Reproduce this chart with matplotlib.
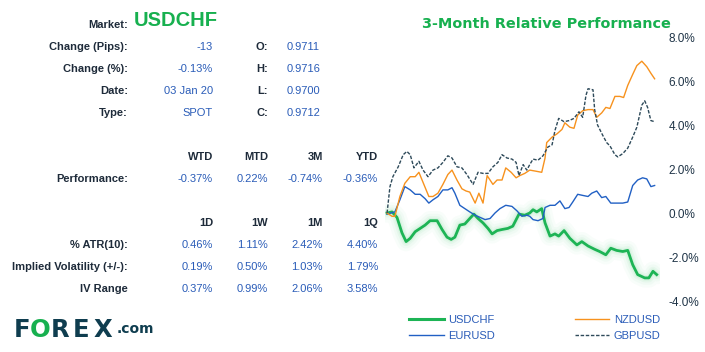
import matplotlib.pyplot as plt
from matplotlib.ticker import FuncFormatter
from matplotlib.lines import Line2D

# 3-month relative performance, % change, x in trading days
chf_days = [0, 1.2, 2.4, 3.6, 4.6, 5.6, 6.8, 8.0, 9.2, 10.4, 12.1, 13.3, 14.5, 15.5, 16.4,
            17.6, 18.8, 20.0, 21.0, 22.0, 23.2, 24.4, 25.4, 26.6, 27.8, 29.2, 30.4, 31.9,
            33.3, 34.5, 35.3, 36.2, 37.4, 38.2, 39.4, 40.6, 41.5, 42.8, 44.2, 45.9, 47.1,
            48.6, 50.2, 51.4, 52.9, 54.1, 55.5, 57.0, 58.2, 59.4, 60.6, 62.3, 63.3, 64.3, 65.2]
chf_vals = [0, 0.05, -0.2, -0.9, -1.3, -1.15, -0.85, -0.7, -0.55, -0.35, -0.35, -0.75, -1.1,
            -1.2, -1.1, -0.55, -0.5, -0.25, -0.05, -0.25, -0.45, -0.7, -0.95, -0.8, -0.75,
            -0.7, -0.6, -0.05, -0.1, 0.0, 0.15, 0.05, 0.2, -0.45, -1.05, -0.95, -1.05, -0.8,
            -1.15, -1.45, -1.3, -1.5, -1.65, -1.75, -1.9, -1.6, -1.7, -1.75, -1.7, -2.35,
            -2.8, -2.95, -2.95, -2.65, -2.8]

eur_days = [0, 1.9, 3.1, 4.3, 5.6, 6.8, 8.0, 9.2, 10.1, 11.1, 12.3, 13.5, 14.7, 15.7, 16.4,
            17.6, 18.8, 20.0, 21.3, 22.5, 23.7, 24.9, 26.1, 27.3, 28.7, 30.2, 31.4, 32.6,
            33.8, 34.5, 35.3, 36.5, 37.7, 38.2, 39.4, 40.6, 41.8, 43.0, 44.0, 44.9, 46.1,
            47.3, 48.6, 49.5, 50.7, 51.9, 52.9, 54.1, 55.6, 57.0, 58.2, 59.4, 60.6, 61.8,
            62.8, 63.8, 64.7]
eur_vals = [-0.05, 0.05, 0.6, 1.2, 1.05, 0.85, 0.85, 0.65, 0.45, 0.6, 0.75, 1.05, 1.05, 1.15,
            0.9, 0.35, 0.2, 0.05, -0.1, -0.2, -0.3, -0.25, 0.0, 0.2, 0.35, 0.3, 0.1, -0.15,
            -0.1, -0.15, -0.3, -0.35, -0.25, 0.25, 0.35, 0.35, 0.55, 0.2, 0.25, 0.5, 0.85,
            0.8, 0.75, 0.9, 1.0, 0.7, 0.75, 0.45, 0.45, 0.45, 0.5, 1.25, 1.5, 1.6, 1.55,
            1.2, 1.25]

nzd_days = [0, 1.2, 1.9, 3.1, 4.3, 5.6, 6.8, 7.7, 8.9, 10.1, 11.1, 12.3, 13.5, 14.7, 15.7,
            16.9, 18.1, 19.1, 20.0, 21.3, 22.2, 23.2, 24.2, 25.6, 26.6, 27.8, 28.7, 30.0,
            31.2, 32.1, 33.3, 34.5, 36.0, 37.4, 38.2, 38.6, 39.9, 41.1, 42.3, 43.0, 44.2,
            45.2, 46.1, 47.3, 48.6, 49.8, 50.7, 51.9, 52.9, 53.9, 55.1, 56.3, 57.2, 58.2,
            59.4, 60.4, 61.6, 62.8, 63.8, 64.7]
nzd_vals = [0, -0.15, -0.15, 0.75, 1.35, 1.65, 1.65, 1.85, 1.3, 0.75, 0.75, 0.9, 1.3, 1.75,
            1.95, 1.5, 1.1, 1.0, 0.95, 0.45, 0.9, 0.45, 1.7, 1.3, 1.5, 1.5, 2.05, 1.85, 1.6,
            1.7, 1.8, 1.95, 1.9, 1.85, 2.5, 3.2, 3.45, 3.6, 3.8, 4.1, 3.9, 3.85, 4.45, 4.65,
            4.7, 4.7, 4.35, 4.55, 4.8, 4.75, 5.3, 5.3, 5.25, 5.8, 6.3, 6.7, 6.9, 6.65, 6.35,
            6.1]

gbp_days = [0, 0.7, 1.4, 2.7, 3.9, 4.8, 5.6, 6.5, 7.7, 8.7, 9.9, 11.1, 12.3, 13.5, 14.7,
            15.7, 16.9, 18.1, 19.3, 20.8, 22.0, 23.2, 24.4, 25.6, 26.8, 27.8, 29.0, 30.2,
            31.2, 31.9, 32.9, 33.8, 34.5, 35.3, 36.5, 37.7, 38.9, 39.9, 40.6, 41.5, 42.8,
            44.0, 45.2, 46.4, 47.3, 48.1, 48.6, 49.8, 50.2, 50.9, 52.1, 53.1, 53.9, 55.1,
            55.8, 57.0, 58.2, 59.4, 60.4, 61.6, 62.3, 63.0, 63.8, 64.7]
gbp_vals = [0, 1.2, 1.65, 2.1, 2.65, 2.8, 2.65, 2.05, 2.35, 1.95, 1.65, 1.95, 2.05, 2.3, 2.6,
            2.5, 2.1, 2.05, 1.75, 1.3, 1.85, 1.8, 1.8, 2.1, 2.3, 2.65, 2.5, 2.45, 2.3, 1.7,
            2.2, 1.95, 2.2, 2.45, 2.4, 2.6, 3.0, 3.1, 3.75, 4.3, 4.15, 4.2, 4.3, 4.6, 4.35,
            5.35, 5.65, 5.6, 4.7, 4.0, 3.55, 3.2, 3.05, 2.65, 2.55, 2.7, 2.95, 3.45, 3.9,
            4.9, 5.1, 4.8, 4.2, 4.15]

# stats table
info_labels = ['Change (Pips):', 'Change (%):', 'Date:', 'Type:']
info_values = ['-13', '-0.13%', '03 Jan 20', 'SPOT']
ohlc_labels = ['O:', 'H:', 'L:', 'C:']
ohlc_values = ['0.9711', '0.9716', '0.9700', '0.9712']
perf_heads = ['WTD', 'MTD', '3M', 'YTD']
perf_values = ['-0.37%', '0.22%', '-0.74%', '-0.36%']
vol_heads = ['1D', '1W', '1M', '1Q']
vol_rows = ['% ATR(10):', 'Implied Volatility (+/-):', 'IV Range']
vol_values = [['0.46%', '1.11%', '2.42%', '4.40%'],
              ['0.19%', '0.50%', '1.03%', '1.79%'],
              ['0.37%', '0.99%', '2.06%', '3.58%']]

W, H = 705, 352
dark = '#1e2b3a'
blue = '#2a5cb8'
green = '#17b04f'

plt.rcParams['font.family'] = ['Liberation Sans', 'DejaVu Sans']
fig = plt.figure(figsize=(W / 100, H / 100), dpi=100)

def put(x, y, s, **kw):
    fig.text(x / W, 1 - y / H, s, va='center', **kw)

fs = 8
put(128, 25, 'Market:', ha='right', fontsize=fs, fontweight='bold', color=dark)
put(134, 21, 'USDCHF', ha='left', fontsize=14.5, fontweight='bold', color=green)
for i in range(4):
    y = 47 + 22 * i
    put(128, y, info_labels[i], ha='right', fontsize=fs, fontweight='bold', color=dark)
    put(213, y, info_values[i], ha='right', fontsize=fs, color=blue)
    put(268, y, ohlc_labels[i], ha='right', fontsize=fs, fontweight='bold', color=dark)
    put(287, y, ohlc_values[i], ha='left', fontsize=fs, color=blue)

cols = [213, 268, 323, 378]
for j in range(4):
    put(cols[j], 157, perf_heads[j], ha='right', fontsize=fs, fontweight='bold', color=dark)
    put(cols[j], 179, perf_values[j], ha='right', fontsize=fs, color=blue)
    put(cols[j], 223, vol_heads[j], ha='right', fontsize=fs, fontweight='bold', color=dark)
put(128, 179, 'Performance:', ha='right', fontsize=fs, fontweight='bold', color=dark)
for i in range(3):
    y = 245 + 22 * i
    put(128, y, vol_rows[i], ha='right', fontsize=fs, fontweight='bold', color=dark)
    for j in range(4):
        put(cols[j], y, vol_values[i][j], ha='right', fontsize=fs, color=blue)

# logo, letter by letter
logo = '#0f3d4f'
lf = ['DejaVu Sans']
for x, ch, c in [(14, 'F', logo), (30, 'O', green), (51, 'R', logo),
                 (73, 'E', logo), (94, 'X', logo)]:
    put(x, 330, ch, ha='left', fontsize=17.5, fontweight='bold', color=c, family=lf)
put(117, 329, '.com', ha='left', fontsize=10, fontweight='bold', color=logo, family=lf)

# chart
ax = fig.add_axes([385 / W, 1 - 301 / H, 275 / W, 264 / H])
for lw, a in [(14, 0.03), (10, 0.04), (6.5, 0.06), (4, 0.08)]:
    ax.plot(chf_days, chf_vals, color='#3cc86a', lw=lw, alpha=a, solid_capstyle='round',
            solid_joinstyle='round')
ax.plot(chf_days, chf_vals, color='#1db455', lw=2.0, label='USDCHF')
ax.plot(eur_days, eur_vals, color='#2160c4', lw=1.0, label='EURUSD')
ax.plot(nzd_days, nzd_vals, color='#f7921e', lw=1.0, label='NZDUSD')
ax.plot(gbp_days, gbp_vals, color='#2e4a5a', lw=1.0, ls=(0, (2.5, 1.2)), label='GBPUSD')

ax.set_xlim(-0.5, 66)
ax.set_ylim(-4, 8)
ax.set_yticks([-4, -2, 0, 2, 4, 6, 8])
ax.yaxis.set_major_formatter(FuncFormatter(lambda v, p: f'{v:.1f}%'))
ax.yaxis.tick_right()
ax.tick_params(axis='y', length=0, pad=6, labelsize=8.5, labelcolor='#1f3447')
ax.set_xticks([])
for s in ax.spines.values():
    s.set_visible(False)

fig.text(546 / W, 1 - 24 / H, '3-Month Relative Performance', ha='center', va='center',
         fontsize=10.4, fontweight='bold', color=green, family=['DejaVu Sans'])

handles = [Line2D([], [], color='#1db455', lw=2.2),
           Line2D([], [], color='#2160c4', lw=1.0),
           Line2D([], [], color='#f7921e', lw=1.0),
           Line2D([], [], color='#2e4a5a', lw=1.0, ls=(0, (2.5, 1.2)))]
names = ['USDCHF', 'EURUSD', 'NZDUSD', 'GBPUSD']
fig.legend(handles, names, ncol=2, loc='center', bbox_to_anchor=(535 / W, 1 - 328 / H),
           frameon=False, fontsize=8, labelcolor=blue, handlelength=3.1,
           handletextpad=0.4, columnspacing=7.2, labelspacing=0.6)

fig.savefig('out.png', dpi=100)
